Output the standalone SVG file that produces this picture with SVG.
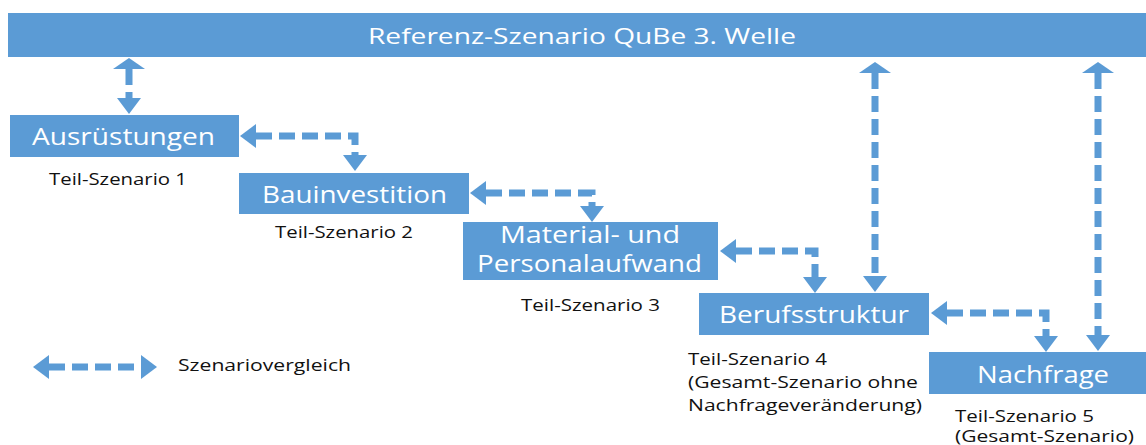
<svg xmlns="http://www.w3.org/2000/svg" width="1146" height="445" viewBox="0 0 1146 445">
<defs>
<style>
.box{fill:#5b9bd5;}
.bt{font-family:"Open Sans","Liberation Sans",sans-serif;font-size:24px;fill:#ffffff;}
.tt{font-family:"Open Sans","Liberation Sans",sans-serif;font-size:21px;fill:#ffffff;}
.lb{font-family:"Open Sans","Liberation Sans",sans-serif;font-size:17px;fill:#111111;}
.con{fill:none;stroke:#5b9bd5;stroke-width:7;stroke-dasharray:16 7;}
</style>
<marker id="ah" markerUnits="userSpaceOnUse" viewBox="0 0 16 24" refX="0" refY="12" markerWidth="16" markerHeight="24" orient="auto-start-reverse">
<path d="M0,0 L16,12 L0,24 z" fill="#5b9bd5"/>
</marker>
<marker id="ahup" markerUnits="userSpaceOnUse" viewBox="0 0 11 32" refX="0" refY="16" markerWidth="11" markerHeight="32" orient="auto-start-reverse">
<path d="M0,0 L11,16 L0,32 z" fill="#5b9bd5"/>
</marker>
</defs>
<rect x="0" y="0" width="1146" height="445" fill="#ffffff"/>
<g id="top">
<rect class="box" x="8" y="13" width="1138" height="44"/>
<text class="tt" x="368" y="44" textLength="428" lengthAdjust="spacingAndGlyphs">Referenz-Szenario QuBe 3. Welle</text>
</g>
<g id="n1">
<rect class="box" x="10" y="115" width="229" height="42"/>
<text class="bt" x="32" y="144.5" textLength="183" lengthAdjust="spacingAndGlyphs">Ausrüstungen</text>
<text class="lb" x="49" y="185" textLength="138" lengthAdjust="spacingAndGlyphs">Teil-Szenario 1</text>
</g>
<g id="n2">
<rect class="box" x="239" y="173" width="230" height="41"/>
<text class="bt" x="262" y="203" textLength="185" lengthAdjust="spacingAndGlyphs">Bauinvestition</text>
<text class="lb" x="275" y="238" textLength="138" lengthAdjust="spacingAndGlyphs">Teil-Szenario 2</text>
</g>
<g id="n3">
<rect class="box" x="463" y="222" width="255" height="58"/>
<text class="bt" x="500" y="243" textLength="180" lengthAdjust="spacingAndGlyphs">Material- und</text>
<text class="bt" x="477" y="272" textLength="225" lengthAdjust="spacingAndGlyphs">Personalaufwand</text>
<text class="lb" x="521" y="311" textLength="139" lengthAdjust="spacingAndGlyphs">Teil-Szenario 3</text>
</g>
<g id="n4">
<rect class="box" x="699" y="293" width="230" height="42"/>
<text class="bt" x="719" y="323" textLength="190" lengthAdjust="spacingAndGlyphs">Berufsstruktur</text>
<text class="lb" x="688" y="365" textLength="139" lengthAdjust="spacingAndGlyphs">Teil-Szenario 4</text>
<text class="lb" x="688" y="388" textLength="230" lengthAdjust="spacingAndGlyphs">(Gesamt-Szenario ohne</text>
<text class="lb" x="688" y="411" textLength="234" lengthAdjust="spacingAndGlyphs">Nachfrageveränderung)</text>
</g>
<g id="n5">
<rect class="box" x="929" y="352" width="217" height="42"/>
<text class="bt" x="977" y="383" textLength="132" lengthAdjust="spacingAndGlyphs">Nachfrage</text>
<text class="lb" x="955" y="422" textLength="139" lengthAdjust="spacingAndGlyphs">Teil-Szenario 5</text>
<text class="lb" x="955" y="442" textLength="179" lengthAdjust="spacingAndGlyphs">(Gesamt-Szenario)</text>
</g>
<g id="legend">
<path class="con" d="M49 367 H141" marker-start="url(#ah)" marker-end="url(#ah)"/>
<text class="lb" x="178" y="371" textLength="173" lengthAdjust="spacingAndGlyphs">Szenariovergleich</text>
</g>
<g id="connectors">
<path class="con" d="M129 69 V98" marker-start="url(#ahup)" marker-end="url(#ah)"/>
<path class="con" d="M256 136 H355 V155" marker-start="url(#ah)" marker-end="url(#ah)"/>
<path class="con" d="M486 193 H592 V206" marker-start="url(#ah)" marker-end="url(#ah)"/>
<path class="con" d="M736 251 H815 V277" marker-start="url(#ah)" marker-end="url(#ah)"/>
<path class="con" d="M947 313 H1046 V336" marker-start="url(#ah)" marker-end="url(#ah)"/>
<path class="con" d="M875 73 V276" marker-start="url(#ahup)" marker-end="url(#ah)"/>
<path class="con" d="M1098 73 V335" marker-start="url(#ahup)" marker-end="url(#ah)"/>
</g>
</svg>
